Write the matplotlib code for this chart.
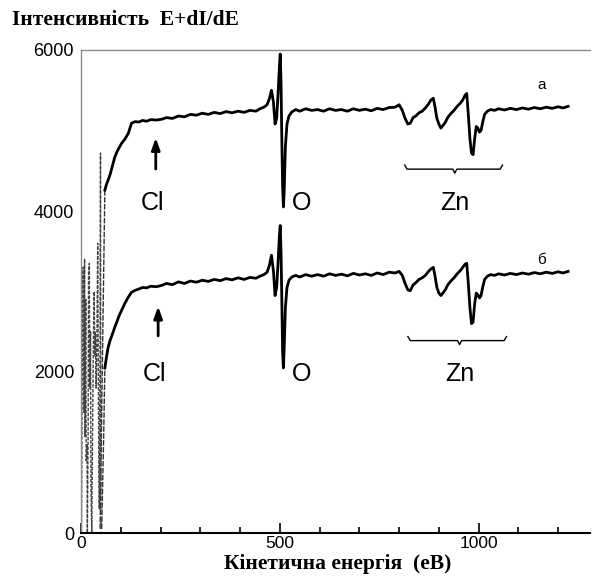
import matplotlib
matplotlib.use("Agg")
import matplotlib.pyplot as plt
from matplotlib.ticker import MultipleLocator

# ---- data ----
energy = [60, 64, 68, 73, 79, 85, 90, 95, 102, 110, 119, 127, 136, 145, 155, 165, 175, 190, 203,
          215, 230, 245, 260, 275, 290, 305, 320, 335, 350, 365, 380, 395, 410, 425,
          440, 450, 460, 468, 474, 479, 484, 488, 492, 496, 499, 501, 503, 505, 507, 509, 511, 514, 518, 523,
          530, 540, 550, 565, 580, 595, 610, 625, 640, 655, 670, 685, 700, 715, 730, 745, 760, 775, 790, 800,
          808, 815, 822, 828, 835, 842, 850, 858, 866, 874, 880, 886, 890, 895, 900, 905, 910, 916, 922, 930,
          938, 946, 954, 960, 966, 970, 974, 978, 982, 986, 990, 994, 998, 1002, 1006, 1010, 1015, 1022, 1030, 1040,
          1050, 1065, 1080, 1095, 1110, 1125, 1140, 1155, 1170, 1185, 1200, 1212, 1225]

intensity_a = [4260, 4330, 4380, 4450, 4560, 4670, 4730, 4780, 4840, 4890, 4965, 5090, 5110, 5105, 5125, 5115, 5135, 5130, 5140,
               5160, 5150, 5180, 5170, 5200, 5190, 5215, 5200, 5225, 5210, 5235, 5220, 5240, 5225, 5250,
               5240, 5270, 5290, 5320, 5400, 5500, 5350, 5080, 5150, 5500, 5800, 5950, 5600, 4900, 4300, 4050, 4250, 4800, 5080, 5180,
               5230, 5260, 5240, 5270, 5250, 5260, 5240, 5270, 5250, 5260, 5240, 5270, 5250, 5265, 5245, 5275, 5260, 5285, 5290, 5320,
               5250, 5150, 5080, 5090, 5160, 5180, 5220, 5240, 5280, 5330, 5380, 5400, 5300, 5150, 5080, 5030, 5060, 5100, 5160, 5210,
               5250, 5300, 5340, 5380, 5440, 5460, 5200, 4900, 4720, 4700, 4900, 5050, 5030, 4980, 5000, 5100, 5200, 5240, 5260, 5250,
               5270, 5255, 5275, 5260, 5280, 5265, 5285, 5270, 5290, 5275, 5295, 5280, 5300]

intensity_b = [2050, 2183, 2300, 2391, 2470, 2557, 2620, 2690, 2765, 2850, 2930, 2990, 3014, 3030, 3050, 3045, 3065, 3060, 3076,
               3100, 3085, 3120, 3100, 3130, 3115, 3140, 3125, 3150, 3135, 3160, 3145, 3170, 3150, 3175,
               3165, 3190, 3210, 3240, 3330, 3450, 3250, 2950, 3050, 3400, 3700, 3820, 3500, 2900, 2250, 2050, 2300, 2800, 3050, 3140,
               3180, 3200, 3180, 3210, 3190, 3210, 3190, 3220, 3200, 3215, 3195, 3225, 3205, 3220, 3200, 3230, 3210, 3240, 3230, 3250,
               3200, 3100, 3020, 3010, 3080, 3110, 3150, 3170, 3200, 3250, 3280, 3300, 3200, 3050, 2980, 2950, 2980, 3020, 3080, 3130,
               3170, 3220, 3260, 3300, 3340, 3350, 3100, 2800, 2600, 2620, 2850, 2980, 2960, 2920, 2950, 3050, 3150, 3190, 3210, 3200,
               3220, 3205, 3225, 3210, 3230, 3215, 3235, 3220, 3240, 3225, 3245, 3230, 3250]

# steep thin rise of each curve at low energy
rise_energy_a = [48, 54, 60]
rise_a = [50, 2200, 4260]
rise_energy_b = [52, 57, 60]
rise_b = [50, 1200, 2050]

# noisy low-energy part
low_energy = [0.5, 1, 3, 5, 7, 9, 10, 12, 13, 15, 16, 18, 19, 21, 22, 24, 25, 27, 29, 31,
              33, 35, 36, 38, 40, 42, 44, 46, 48, 49, 50]
low_intensity = [3550, 0, 2000, 3300, 1500, 3400, 1200, 2900, 900, 1100, 0, 1300, 3250, 3350, 1800, 2500, 600, 0, 1200, 2300,
                 3000, 2200, 2500, 1800, 2400, 3600, 1500, 300, 2400, 4720, 100]

x_ticks = [0, 500, 1000]
y_ticks = [0, 2000, 4000, 6000]

peak_labels = ["Cl", "O", "Zn"]
label_energy_a = [181, 555, 940]
label_energy_b = [185, 555, 952]
label_value_a = 4100
label_value_b = 1980

# ---- figure ----
fig = plt.figure(figsize=(5.92, 5.76), dpi=100)
ax = fig.add_axes([81 / 592, 1 - 533 / 576, (590 - 81) / 592, (533 - 50) / 576])

ax.plot(low_energy, low_intensity, color="#444444", lw=1.0, ls=(0, (2.5, 1)))
ax.plot(rise_energy_a, rise_a, color="#333333", lw=1.0, ls=(0, (4, 1)))
ax.plot(rise_energy_b, rise_b, color="#333333", lw=1.0, ls=(0, (4, 1)))
ax.plot(energy, intensity_a, color="black", lw=2.0, solid_joinstyle="round")
ax.plot(energy, intensity_b, color="black", lw=2.0, solid_joinstyle="round")

ax.set_xlim(0, 1280)
ax.set_ylim(0, 6000)
ax.set_xticks(x_ticks)
ax.set_yticks(y_ticks)
ax.xaxis.set_minor_locator(MultipleLocator(100))
ax.tick_params(axis="x", which="major", direction="in", length=7, width=1.2, labelsize=12.5, pad=2)
ax.tick_params(axis="x", which="minor", direction="in", length=4, width=1.2)
ax.tick_params(axis="y", which="major", length=0, labelsize=13, pad=5)
for lbl in ax.get_xticklabels() + ax.get_yticklabels():
    lbl.set_family("Liberation Sans")

ax.spines["bottom"].set_color("black")
ax.spines["bottom"].set_linewidth(1.5)
ax.spines["right"].set_visible(False)
for s in ["left", "top"]:
    ax.spines[s].set_color("#8a8a8a")
    ax.spines[s].set_linewidth(1.0)

# arrows for Cl
ax.annotate("", xy=(188, 4944), xytext=(188, 4487),
            arrowprops=dict(arrowstyle="-|>,head_width=0.25,head_length=0.7", color="black", lw=2))
ax.annotate("", xy=(194, 2850), xytext=(194, 2415),
            arrowprops=dict(arrowstyle="-|>,head_width=0.25,head_length=0.7", color="black", lw=2))

# peak labels
for name, ea, eb in zip(peak_labels, label_energy_a, label_energy_b):
    ax.text(ea, label_value_a, name, fontsize=18, family="Liberation Sans", ha="center", va="center")
    ax.text(eb, label_value_b, name, fontsize=18, family="Liberation Sans", ha="center", va="center")

# braces for Zn
ax.plot([814, 820, 935, 940, 945, 1054, 1060], [4570, 4520, 4520, 4470, 4520, 4520, 4570], color="black", lw=1)
ax.plot([822, 828, 947, 952, 957, 1064, 1070], [2440, 2390, 2390, 2340, 2390, 2390, 2440], color="black", lw=1)

# curve names
ax.text(1158, 5565, "а", fontsize=11, family="Liberation Sans", ha="center", va="center")
ax.text(1158, 3387, "б", fontsize=11, family="Liberation Sans", ha="center", va="center")

fig.text(12 / 592, 1 - 20 / 576, "Інтенсивність  E+dI/dE", fontsize=15.5, family="Liberation Serif",
         fontweight="bold", ha="left", va="center")
fig.text(338 / 592, 1 - 564 / 576, "Кінетична енергія  (еВ)", fontsize=15.5, family="Liberation Serif",
         fontweight="bold", ha="center", va="center")

fig.savefig("out.png", dpi=100)
